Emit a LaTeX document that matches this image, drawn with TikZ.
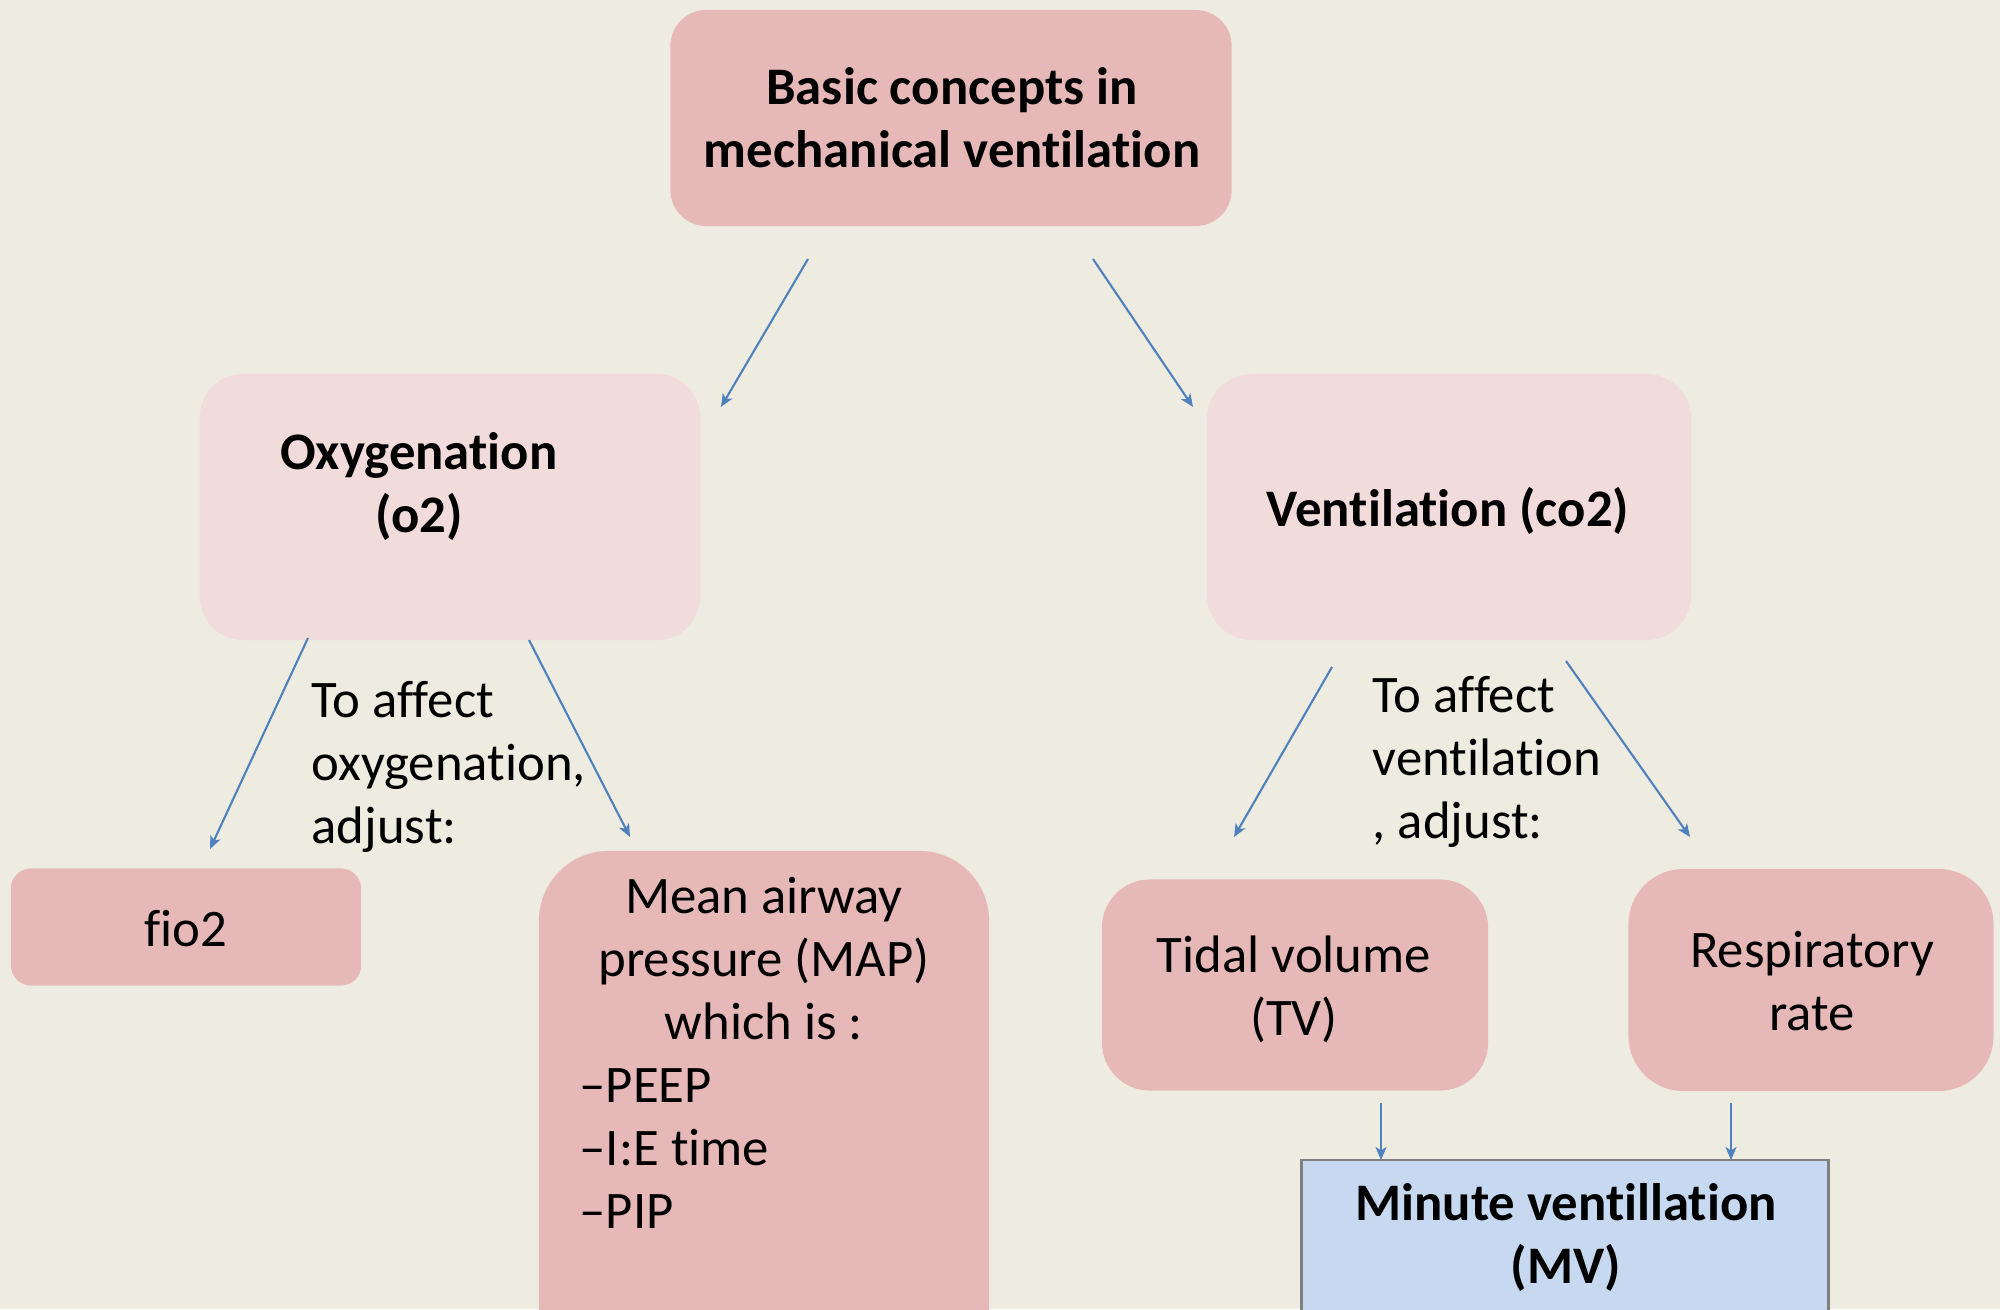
\documentclass[tikz,border=0pt]{standalone}
\usepackage{fontspec}
\setmainfont{Carlito}[Ligatures={TeX,NoCommon}]
\usepackage{xcolor}
\usetikzlibrary{arrows.meta}

\definecolor{bgtan}{HTML}{EEECE1}
\definecolor{pinkdark}{HTML}{E6B9B8}
\definecolor{pinkpale}{HTML}{F2DCDB}
\definecolor{mvblue}{HTML}{C6D9F1}
\definecolor{linkblue}{HTML}{4F81BD}

\begin{document}
\begin{tikzpicture}[x=0.01cm,y=-0.01cm]
			\useasboundingbox (0,0) rectangle (2000,1309);
			\fill[bgtan] (0,0) rectangle (2000,1309);
			\clip (0,0) rectangle (2000,1309);
			% boxes
			\begin{scope}[every node/.style={inner sep=0pt,outer sep=0pt}]
				\node[fill=pinkdark,rounded corners=0.36cm,minimum width=5.61cm,minimum height=2.16cm] (top) at (951,118) {};
				\node[fill=pinkpale,rounded corners=0.43cm,minimum width=5cm,minimum height=2.66cm] (oxy) at (450,507) {};
				\node[fill=pinkpale,rounded corners=0.45cm,minimum width=4.84cm,minimum height=2.66cm] (vent) at (1449,507) {};
				\node[fill=pinkdark,rounded corners=0.2cm,minimum width=3.5cm,minimum height=1.17cm] (fio) at (186,927) {};
				\node[fill=pinkdark,rounded corners=0.7cm,minimum width=4.5cm,minimum height=5.5cm] (map) at (764,1126) {};
				\node[fill=pinkdark,rounded corners=0.48cm,minimum width=3.86cm,minimum height=2.11cm] (tv) at (1295,985) {};
				\node[fill=pinkdark,rounded corners=0.55cm,minimum width=3.65cm,minimum height=2.22cm] (rr) at (1811,980) {};
				\node[fill=mvblue,draw=gray,line width=0.8pt,minimum width=5.26cm,minimum height=2.6cm] (mv) at (1565,1290) {};
			\end{scope}
			% texts (base = last line)
			\begin{scope}[every node/.style={inner sep=0pt,align=center,anchor=base,
				font=\fontsize{15}{17.8}\selectfont}]
				\node[font=\fontsize{15}{17.8}\selectfont\bfseries] (topText) at (952,167) {Basic concepts in\\mechanical ventilation};
				\node[font=\fontsize{15}{17.8}\selectfont\bfseries] (oxyText) at (419,532) {Oxygenation\\(o2)};
				\node[font=\fontsize{15}{17.8}\selectfont\bfseries] (ventText) at (1448,526) {Ventilation (co2)};
				\node[anchor=base west,align=left] (oxyNote) at (311,843) {To affect\\oxygenation,\\adjust:};
				\node[anchor=base west,align=left] (ventNote) at (1372,838) {To affect\\ventilation\\, adjust:};
				\node (fioText) at (186,946) {fio2};
				\node (mapHead) at (764,1039) {Mean airway\\pressure (MAP)\\which is :};
				\node[anchor=base west,align=left] (mapList) at (579,1228) {–PEEP\\–I:E time\\–PIP};
				\node (tvText) at (1294,1035) {Tidal volume\\(TV)};
				\node (rrText) at (1812,1030) {Respiratory\\rate};
				\node[font=\fontsize{15}{17.8}\selectfont\bfseries] (mvText) at (1566,1283) {Minute ventillation\\(MV)};
			\end{scope}
			% arrow ends
			\coordinate (a1) at (808,259);  \coordinate (b1) at (721,407);
			\coordinate (a2) at (1093,259); \coordinate (b2) at (1193,407);
			\coordinate (a3) at (308,638);  \coordinate (b3) at (210,849);
			\coordinate (a4) at (529,640);  \coordinate (b4) at (630,837);
			\coordinate (a5) at (1332,667); \coordinate (b5) at (1234,837);
			\coordinate (a6) at (1566,661); \coordinate (b6) at (1690,837);
			\coordinate (a7) at (1381,1103); \coordinate (b7) at (1381,1160);
			\coordinate (a8) at (1731,1103); \coordinate (b8) at (1731,1160);
			\begin{scope}[>={Stealth[length=1.3mm,width=1.1mm,inset=0.35mm]},
				every edge/.style={draw=linkblue,line width=0.6pt}]
				\path [->] (a1) edge (b1);
				\path [->] (a2) edge (b2);
				\path [->] (a3) edge (b3);
				\path [->] (a4) edge (b4);
				\path [->] (a5) edge (b5);
				\path [->] (a6) edge (b6);
				\path [->] (a7) edge (b7);
				\path [->] (a8) edge (b8);
			\end{scope}
		\end{tikzpicture}
\end{document}
